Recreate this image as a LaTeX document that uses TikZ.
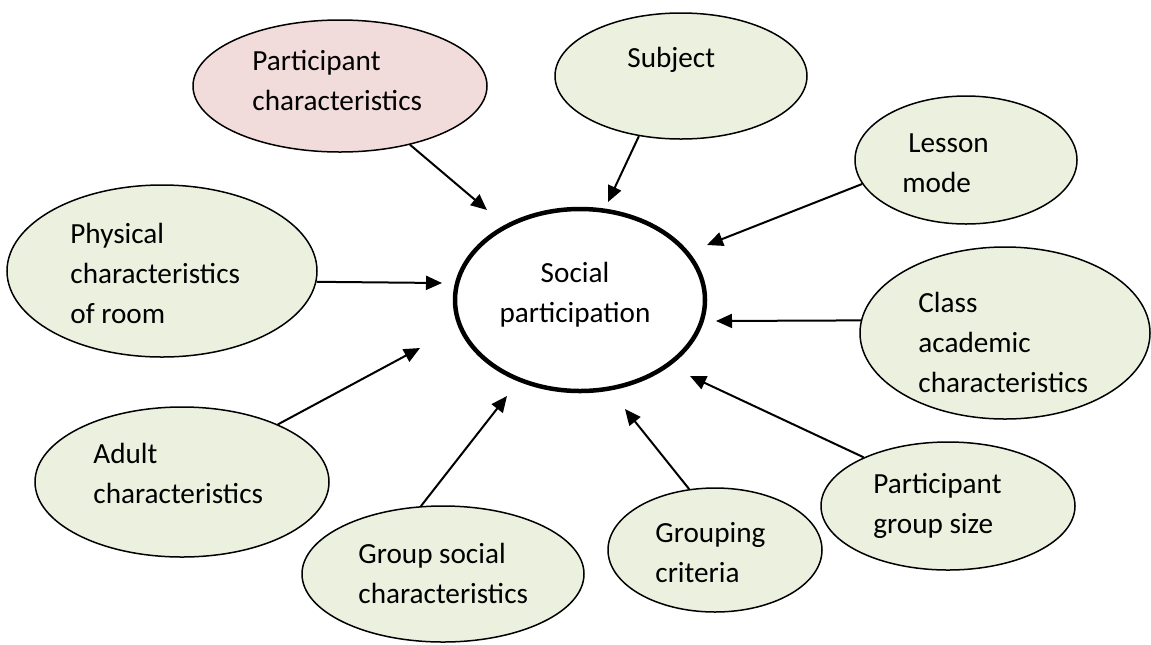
\documentclass[tikz,border=0pt]{standalone}
\usepackage{fontspec}
\setmainfont{Carlito}
\usetikzlibrary{shapes.geometric,arrows.meta}
\definecolor{leaf}{RGB}{235,241,222}
\definecolor{blush}{RGB}{242,220,219}
\tikzset{
  bubble/.style={ellipse, draw, line width=0.75pt, fill=leaf, inner sep=0pt},
  hub/.style={ellipse, draw, line width=2.25pt, fill=white, inner sep=0pt},
  words/.style={anchor=base west, align=left, inner sep=0pt, font=\fontsize{14.6}{20}\selectfont},
  feed/.style={line width=1pt, -{Triangle[length=8pt,width=7pt]}}
}

\begin{document}
\begin{tikzpicture}[x=0.5pt, y=-0.5pt]
  \useasboundingbox (0,0) rectangle (1151,644);

  % bubbles
  \node[bubble, fill=blush, minimum width=147pt, minimum height=66pt] (pc) at (340,86) {};
  \node[bubble, minimum width=126pt, minimum height=63pt] (subj) at (681,76) {};
  \node[bubble, minimum width=111pt, minimum height=64pt] (lesson) at (966,160) {};
  \node[bubble, minimum width=155pt, minimum height=86pt] (phys) at (162,271) {};
  \node[hub, minimum width=125pt, minimum height=91pt] (social) at (580,300) {};
  \node[bubble, minimum width=145pt, minimum height=86pt] (cls) at (1005,333) {};
  \node[bubble, minimum width=147pt, minimum height=75pt] (adult) at (182,482) {};
  \node[bubble, minimum width=141pt, minimum height=68pt] (gsoc) at (443,574) {};
  \node[bubble, minimum width=107pt, minimum height=62pt] (grp) at (715,550) {};
  \node[bubble, minimum width=127pt, minimum height=64pt] (pgs) at (948,506) {};

  % texts, placed by the baseline of their last line
  \node[words] (pc-txt) at (252,110) {Participant\\characteristics};
  \node[words] (subj-txt) at (627,67) {Subject};
  \node[words] (lesson-txt) at (902,192) {\hspace*{3pt}Lesson\\mode};
  \node[words] (phys-txt) at (70,323) {Physical\\characteristics\\of room};
  \node[words, anchor=base, align=center] (social-txt) at (575,322) {Social\\participation};
  \node[words] (cls-txt) at (918,392) {Class\\academic\\characteristics};
  \node[words] (adult-txt) at (93,503) {Adult\\characteristics};
  \node[words] (gsoc-txt) at (358,603) {Group social\\characteristics};
  \node[words] (grp-txt) at (655,582) {Grouping\\criteria};
  \node[words] (pgs-txt) at (873,533) {Participant\\group size};

  % arrow tips
  \coordinate (pc-tip) at (487,210);
  \coordinate (subj-tip) at (608,202);
  \coordinate (lesson-tip) at (707,245);
  \coordinate (phys-tip) at (442,283);
  \coordinate (cls-tip) at (716,321);
  \coordinate (adult-tip) at (420,348);
  \coordinate (gsoc-tip) at (507,396);
  \coordinate (grp-tip) at (625,409);
  \coordinate (pgs-tip) at (690,376);

  \draw[feed] (pc.-40) -- (pc-tip);
  \draw[feed] (subj.235) -- (subj-tip);
  \draw[feed] (lesson.193) -- (lesson-tip);
  \draw[feed] (phys.-4) -- (phys-tip);
  \draw[feed] (cls.175) -- (cls-tip);
  \draw[feed] (adult.31) -- (adult-tip);
  \draw[feed] (gsoc.108) -- (gsoc-tip);
  \draw[feed] (grp.113) -- (grp-tip);
  \draw[feed] (pgs.150) -- (pgs-tip);
\end{tikzpicture}
\end{document}
